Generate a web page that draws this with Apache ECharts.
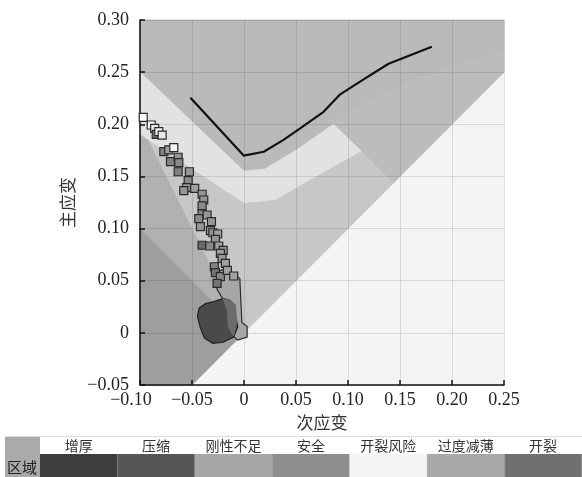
<!DOCTYPE html>
<html>
<head>
<meta charset="utf-8">
<script src="https://cdn.jsdelivr.net/npm/echarts@6/dist/echarts.min.js"></script>
<style>
  html, body { margin: 0; padding: 0; background: #fff; }
  #main { width: 582px; height: 477px; }
</style>
</head>
<body>
<div id="main"></div>
<script>
  // region boundaries (minor strain, major strain)
  var crackZone = [[-0.1, 0.3], [0.25, 0.3], [0.25, 0.27], [0.2, 0.255], [0.16, 0.24], [0.12, 0.222],
    [0.086, 0.2], [0.05, 0.175], [0.02, 0.157], [0, 0.155], [-0.1, 0.25]];
  var thinZone = [[0.086, 0.2], [0.12, 0.222], [0.16, 0.24], [0.2, 0.255], [0.25, 0.27], [0.25, 0.25],
    [0.1435, 0.1435]];
  var riskZone = [[-0.1, 0.25], [0, 0.155], [0.02, 0.157], [0.05, 0.175], [0.086, 0.2], [0.113, 0.174],
    [0.07, 0.15], [0.03, 0.127], [0, 0.124], [-0.1, 0.19]];
  var safeZone = [[0, 0], [-0.0925, 0.185], [0, 0.124], [0.03, 0.127], [0.07, 0.15], [0.113, 0.174],
    [0.1435, 0.1435]];
  var compressZone = [[0, 0], [-0.1, 0.1], [-0.1, 0.19], [-0.0925, 0.185]];
  var thickZone = [[0, 0], [-0.05, -0.05], [-0.1, -0.05], [-0.1, 0.1]];

  // measured points cluster near origin
  var blobStrip = [[-0.027, 0.058], [-0.019, 0.061], [-0.012, 0.058], [-0.004, 0.052], [-0.003, 0.03],
    [-0.002, 0.01], [0.003, 0.006], [0.003, -0.004], [-0.006, -0.007], [-0.014, 0.0], [-0.012, 0.022],
    [-0.02, 0.032], [-0.026, 0.042], [-0.024, 0.05]];
  var blobDark = [[-0.0448, 0.016], [-0.043, 0.024], [-0.037, 0.028], [-0.029, 0.03], [-0.02, 0.033],
    [-0.013, 0.031], [-0.009, 0.02], [-0.006, 0.006], [-0.01, -0.004], [-0.02, -0.009], [-0.03, -0.01],
    [-0.038, -0.005], [-0.042, 0.005]];
  var blobMid = [[-0.02, 0.033], [-0.013, 0.031], [-0.008, 0.027], [-0.007, 0.01], [-0.01, -0.003],
    [-0.015, 0.005], [-0.016, 0.02]];

  // measured points: minor, major, shade (0 dark .. 1 white)
  var strainPoints = [
    [-0.0969, 0.2067, 1], [-0.0892, 0.1993, 1], [-0.0859, 0.1961, 0.9], [-0.0844, 0.1904, 0.35],
    [-0.0819, 0.1929, 0.95], [-0.0787, 0.1897, 0.9], [-0.0771, 0.1737, 0.45], [-0.0723, 0.1754, 0.6],
    [-0.0675, 0.1776, 0.95], [-0.0707, 0.1641, 0.45], [-0.0633, 0.1684, 0.55], [-0.0627, 0.1632, 0.5],
    [-0.0633, 0.1545, 0.45], [-0.0525, 0.1545, 0.55], [-0.0537, 0.1459, 0.5], [-0.0553, 0.1392, 0.55],
    [-0.0579, 0.1363, 0.55], [-0.0474, 0.1386, 0.6], [-0.0403, 0.1329, 0.55], [-0.0387, 0.1274, 0.55],
    [-0.0403, 0.1217, 0.5], [-0.0403, 0.114, 0.5], [-0.0355, 0.113, 0.55], [-0.0435, 0.1095, 0.5],
    [-0.0313, 0.1066, 0.55], [-0.0419, 0.1018, 0.55], [-0.0323, 0.098, 0.55], [-0.0299, 0.096, 0.55],
    [-0.0253, 0.0948, 0.6], [-0.0275, 0.0897, 0.55], [-0.0403, 0.084, 0.3], [-0.033, 0.0833, 0.5],
    [-0.0243, 0.0833, 0.6], [-0.02, 0.079, 0.55], [-0.0227, 0.0763, 0.6], [-0.0211, 0.0715, 0.55],
    [-0.0179, 0.0667, 0.6], [-0.0285, 0.0634, 0.45], [-0.0275, 0.0577, 0.35], [-0.0227, 0.0539, 0.5],
    [-0.016, 0.06, 0.6], [-0.0259, 0.0475, 0.35], [-0.0099, 0.0545, 0.6]
  ];

  // limit curve
  var flcX = [-0.0515, -0.0003, 0.019, 0.038, 0.054, 0.0765, 0.0925, 0.115, 0.139, 0.1806];
  var flcY = [0.2255, 0.17, 0.1737, 0.185, 0.196, 0.212, 0.2287, 0.243, 0.258, 0.2744];

  var axisTicks = [-0.1, -0.05, 0, 0.05, 0.1, 0.15, 0.2, 0.25, 0.3];

  var zoneNames = ['增厚', '压缩', '刚性不足', '安全', '开裂风险', '过度减薄', '开裂'];
  var zoneColors = ['#3d3d3d', '#565656', '#a6a6a6', '#8e8e8e', '#f4f4f4', '#a9a9a9', '#707070'];

  function fmt(v) {
    if (Math.abs(v) < 1e-9) return '0';
    return (v < 0 ? '\u2212' : '') + Math.abs(v).toFixed(2);
  }

  function zone(pts, fill, stroke) {
    return {
      type: 'custom',
      z: 1,
      silent: true,
      animation: false,
      data: pts,
      renderItem: function (params, api) {
        if (params.dataIndex > 0) return;
        var coords = pts.map(function (p) { return api.coord(p); });
        return {
          type: 'polygon',
          shape: { points: coords },
          // same-colour stroke hides seams between neighbouring zones
          style: { fill: fill, stroke: stroke || fill, lineWidth: stroke ? 1.2 : 0.8 }
        };
      }
    };
  }

  var latin = "'Liberation Serif', 'Times New Roman', serif";
  var cjk = "'Noto Sans CJK SC', sans-serif";

  // bottom legend table
  var graphic = [
    { type: 'rect', shape: { x: 5, y: 436, width: 577, height: 1 }, style: { fill: '#dddddd' } },
    { type: 'rect', shape: { x: 5, y: 437, width: 35, height: 40 }, style: { fill: '#aaaaaa' } },
    { type: 'text', x: 22, y: 467, style: { text: '区域', font: '15px ' + cjk, fill: '#222', align: 'center', verticalAlign: 'middle' } }
  ];
  var cellW = 77.4;
  zoneNames.forEach(function (name, i) {
    var x0 = 40 + i * cellW;
    graphic.push({ type: 'rect', shape: { x: x0, y: 454, width: cellW, height: 23 }, style: { fill: zoneColors[i] } });
    graphic.push({ type: 'text', x: x0 + cellW / 2, y: 446, style: { text: name, font: '14px ' + cjk, fill: '#333', align: 'center', verticalAlign: 'middle' } });
  });

  var myChart = echarts.init(document.getElementById('main'));
  var option = {
    animation: false,
    grid: { left: 140, top: 20, width: 364, height: 365, show: true, backgroundColor: '#f4f4f4', borderWidth: 0 },
    xAxis: {
      type: 'value', min: axisTicks[0], max: 0.25, interval: 0.05, z: 3,
      name: '次应变', nameLocation: 'middle', nameGap: 22,
      nameTextStyle: { fontFamily: cjk, fontSize: 17, color: '#333' },
      axisLine: { onZero: false, lineStyle: { color: '#111', width: 1.5 } },
      axisTick: { inside: true, length: 5, lineStyle: { color: '#111', width: 1.5 } },
      axisLabel: {
        fontFamily: latin, fontSize: 18, color: '#222', margin: 6,
        formatter: function (v) {
          // first label sits a little left of its tick
          return v < -0.09 ? '{f|' + fmt(v) + '}' : fmt(v);
        },
        rich: { f: { fontFamily: latin, fontSize: 18, color: '#222', padding: [0, 18, 0, 0] } }
      },
      splitLine: { lineStyle: { color: 'rgba(0,0,0,0.11)', width: 1 } }
    },
    yAxis: {
      type: 'value', min: -0.05, max: axisTicks[8], interval: 0.05, z: 3,
      name: '主应变', nameLocation: 'middle', nameGap: 64, nameRotate: 90,
      nameTextStyle: { fontFamily: cjk, fontSize: 17, color: '#333' },
      axisLine: { onZero: false, lineStyle: { color: '#111', width: 1.5 } },
      axisTick: { inside: true, length: 5, lineStyle: { color: '#111', width: 1.5 } },
      axisLabel: { formatter: fmt, fontFamily: latin, fontSize: 18, color: '#222', margin: 11 },
      splitLine: { lineStyle: { color: 'rgba(0,0,0,0.11)', width: 1 } }
    },
    visualMap: {
      show: false, type: 'continuous', seriesIndex: 10, dimension: 2, min: 0, max: 1,
      inRange: { color: ['#3a3a3a', '#8a8a8a', '#ffffff'] }
    },
    graphic: graphic,
    series: [
      zone(crackZone, '#bababa'),
      zone(thinZone, '#bcbcbc'),
      zone(riskZone, '#e2e2e2'),
      zone(safeZone, '#c7c7c7'),
      zone(compressZone, '#b1b1b1'),
      zone(thickZone, '#9e9e9e'),
      {
        type: 'line', z: 6, silent: true, symbol: 'none',
        data: flcX.map(function (x, i) { return [x, flcY[i]]; }),
        lineStyle: { color: '#111', width: 2.2 }
      },
      Object.assign(zone(blobStrip, '#a6a6a6', '#2a2a2a'), { z: 4 }),
      Object.assign(zone(blobDark, '#4a4a4a', '#222222'), { z: 4 }),
      Object.assign(zone(blobMid, '#6c6c6c'), { z: 4 }),
      {
        type: 'scatter', z: 5, silent: true, symbol: 'rect', symbolSize: 8,
        data: strainPoints,
        itemStyle: { borderColor: '#2a2a2a', borderWidth: 1.2, opacity: 1 }
      }
    ]
  };
  myChart.setOption(option);
</script>
</body>
</html>
